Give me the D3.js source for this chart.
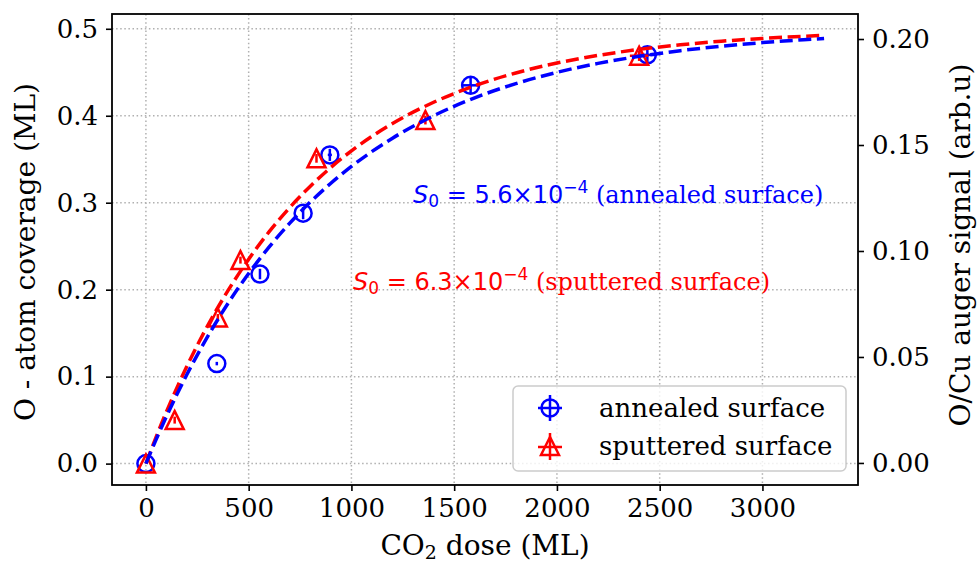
<!DOCTYPE html>
<html>
<head>
<meta charset="utf-8">
<script src="https://cdn.jsdelivr.net/npm/d3@7"></script>
<style>
  html, body { margin: 0; padding: 0; background: #ffffff; }
  svg { display: block; }
</style>
</head>
<body>
<svg id="chart" width="977" height="564"></svg>
<script>
// ---------------- data ----------------
const annealedDose = [0, 345, 555, 765, 895, 1580, 2440];
const annealedCov  = [0.000, 0.115, 0.218, 0.288, 0.355, 0.435, 0.470];
const annealedYErr = [0.000, 0.002, 0.006, 0.007, 0.007, 0.010, 0.010];
const annealedXErr = [0, 0, 0, 0, 10, 45, 45];

const sputteredDose = [0, 140, 350, 460, 830, 1360, 2400];
const sputteredCov  = [0.000, 0.050, 0.168, 0.234, 0.351, 0.395, 0.469];
const sputteredYErr = [0.000, 0.004, 0.004, 0.004, 0.005, 0.005, 0.006];
const sputteredXErr = [0, 0, 0, 0, 0, 0, 45];

// fitted curves, points
const fitDose = [0, 50, 100, 150, 200, 300, 400, 500, 600, 700, 800, 900, 1000,
                 1200, 1400, 1600, 1800, 2000, 2200, 2400, 2600, 2800, 3000, 3200, 3300];
const fitAnnealed = [0.0000, 0.0279, 0.0543, 0.0792, 0.1027, 0.1459, 0.1844, 0.2187, 0.2492,
                     0.2765, 0.3008, 0.3224, 0.3417, 0.3742, 0.4000, 0.4206, 0.4369, 0.4499,
                     0.4602, 0.4683, 0.4748, 0.4800, 0.4841, 0.4874, 0.4888];
const fitSputtered = [0.0000, 0.0308, 0.0597, 0.0867, 0.1122, 0.1584, 0.1992, 0.2350, 0.2667,
                      0.2945, 0.3190, 0.3406, 0.3596, 0.3911, 0.4155, 0.4345, 0.4492, 0.4606,
                      0.4694, 0.4763, 0.4816, 0.4857, 0.4889, 0.4914, 0.4924];

const xTicks = [0, 500, 1000, 1500, 2000, 2500, 3000];
const yLeftTicks = [0.0, 0.1, 0.2, 0.3, 0.4, 0.5];
const yRightTicks = [0.00, 0.05, 0.10, 0.15, 0.20];

const seriesNames = ["annealed surface", "sputtered surface"];
const annotations = [
  { value: "5.6", label: "(annealed surface)" },
  { value: "6.3", label: "(sputtered surface)" }
];

// ---------------- layout ----------------
const W = 977, H = 564;
const L = 112, R = 858, T = 14, B = 485;
const BLUE = "#0000ff", RED = "#ff0000";
const SERIF = "'DejaVu Serif', serif";
const SANS = "'DejaVu Sans', sans-serif";

const svg = d3.select("#chart");

const x = d3.scaleLinear().domain([-165, 3465]).range([L, R]);
const yL = d3.scaleLinear().domain([-0.0246, 0.5170]).range([B, T]);
const yR = d3.scaleLinear().domain([-0.0104, 0.2118]).range([B, T]);

// grid
const grid = svg.append("g");
grid.selectAll("line.gx").data(xTicks).join("line")
  .attr("x1", d => x(d)).attr("x2", d => x(d)).attr("y1", T).attr("y2", B)
  .attr("stroke", "#b0b0b0").attr("stroke-width", 1.5).attr("stroke-dasharray", "1.5,2.6");
grid.selectAll("line.gy").data(yLeftTicks).join("line")
  .attr("x1", L).attr("x2", R).attr("y1", d => yL(d)).attr("y2", d => yL(d))
  .attr("stroke", "#b0b0b0").attr("stroke-width", 1.5).attr("stroke-dasharray", "1.5,2.6");

// axes
function styleAxis(g) {
  g.select(".domain").remove();
  g.selectAll(".tick line").attr("stroke", "#000").attr("stroke-width", 1.6);
  g.selectAll(".tick text").attr("font-family", SERIF).attr("font-size", 26).attr("fill", "#000");
}
svg.append("g").attr("transform", `translate(0,${B})`)
  .call(d3.axisBottom(x).tickValues(xTicks).tickFormat(d3.format("d")).tickSize(6).tickPadding(8).tickSizeOuter(0))
  .call(styleAxis);
svg.append("g").attr("transform", `translate(${L},0)`)
  .call(d3.axisLeft(yL).tickValues(yLeftTicks).tickFormat(d3.format(".1f")).tickSize(6).tickPadding(8).tickSizeOuter(0))
  .call(styleAxis);
svg.append("g").attr("transform", `translate(${R},0)`)
  .call(d3.axisRight(yR).tickValues(yRightTicks).tickFormat(d3.format(".2f")).tickSize(6).tickPadding(8).tickSizeOuter(0))
  .call(styleAxis);

// axis labels
const xl = svg.append("text").attr("x", 485).attr("y", 555).attr("text-anchor", "middle")
  .attr("font-family", SERIF).attr("font-size", 28).attr("fill", "#000");
xl.append("tspan").text("CO");
xl.append("tspan").attr("font-size", 19).attr("dy", 4).text("2");
xl.append("tspan").attr("dy", -4).text(" dose (ML)");

svg.append("text").attr("transform", "translate(35,252) rotate(-90)").attr("text-anchor", "middle")
  .attr("font-family", SERIF).attr("font-size", 28).attr("fill", "#000")
  .text("O - atom coverage (ML)");
svg.append("text").attr("transform", "translate(970,245) rotate(-90)").attr("text-anchor", "middle")
  .attr("font-family", SERIF).attr("font-size", 28).attr("fill", "#000")
  .text("O/Cu auger signal (arb.u)");

// markers
function circleMarker(g, cx, cy, color) {
  g.append("circle").attr("cx", cx).attr("cy", cy).attr("r", 8.5)
    .attr("fill", "none").attr("stroke", color).attr("stroke-width", 2.5);
}
function triMarker(g, cx, cy, color) {
  const s = 9;
  g.append("path").attr("d", `M${cx},${cy - s}L${cx - s},${cy + s}L${cx + s},${cy + s}Z`)
    .attr("fill", "none").attr("stroke", color).attr("stroke-width", 2.5).attr("stroke-linejoin", "miter");
}
function errorBars(g, dx, dy, xe, ye, color) {
  g.append("line").attr("x1", x(dx)).attr("x2", x(dx)).attr("y1", yL(dy - ye)).attr("y2", yL(dy + ye))
    .attr("stroke", color).attr("stroke-width", 2.5);
  if (xe > 0) {
    g.append("line").attr("x1", x(dx - xe)).attr("x2", x(dx + xe)).attr("y1", yL(dy)).attr("y2", yL(dy))
      .attr("stroke", color).attr("stroke-width", 2.5);
  }
}

const pts = svg.append("g");
annealedDose.forEach((d, i) => {
  errorBars(pts, d, annealedCov[i], annealedXErr[i], annealedYErr[i], BLUE);
  circleMarker(pts, x(d), yL(annealedCov[i]), BLUE);
});
sputteredDose.forEach((d, i) => {
  errorBars(pts, d, sputteredCov[i], sputteredXErr[i], sputteredYErr[i], RED);
  triMarker(pts, x(d), yL(sputteredCov[i]), RED);
});

// fit lines
const line = d3.line().x(d => x(d[0])).y(d => yL(d[1])).curve(d3.curveMonotoneX);
svg.append("path").datum(fitDose.map((d, i) => [d, fitSputtered[i]])).attr("d", line)
  .attr("fill", "none").attr("stroke", RED).attr("stroke-width", 3.5).attr("stroke-dasharray", "13,5.6");
svg.append("path").datum(fitDose.map((d, i) => [d, fitAnnealed[i]])).attr("d", line)
  .attr("fill", "none").attr("stroke", BLUE).attr("stroke-width", 3.5).attr("stroke-dasharray", "13,5.6");

// annotations
function annotation(ax, ay, a, color) {
  const t = svg.append("text").attr("x", ax).attr("y", ay).attr("fill", color).attr("font-size", 24);
  t.append("tspan").attr("font-family", SANS).attr("font-style", "italic").text("S");
  t.append("tspan").attr("font-family", SANS).attr("font-size", 17).attr("y", ay + 4).text("0");
  t.append("tspan").attr("font-family", SANS).attr("y", ay).text(" = " + a.value + "×10");
  t.append("tspan").attr("font-family", SANS).attr("font-size", 17).attr("y", ay - 10).text("−4");
  t.append("tspan").attr("font-family", SERIF).attr("y", ay).text(" " + a.label);
}
annotation(413, 203, annotations[0], BLUE);
annotation(353, 290, annotations[1], RED);

// legend
const lg = svg.append("g");
lg.append("rect").attr("x", 513).attr("y", 386).attr("width", 333).attr("height", 85).attr("rx", 5)
  .attr("fill", "#ffffff").attr("fill-opacity", 0.8).attr("stroke", "#cccccc").attr("stroke-width", 1.5);
// annealed entry
lg.append("line").attr("x1", 550).attr("x2", 550).attr("y1", 395).attr("y2", 421).attr("stroke", BLUE).attr("stroke-width", 2.5);
lg.append("line").attr("x1", 538).attr("x2", 562).attr("y1", 408).attr("y2", 408).attr("stroke", BLUE).attr("stroke-width", 2.5);
circleMarker(lg, 550, 408, BLUE);
lg.append("text").attr("x", 599).attr("y", 417).attr("font-family", SERIF).attr("font-size", 26).attr("fill", "#000").text(seriesNames[0]);
// sputtered entry
lg.append("line").attr("x1", 550).attr("x2", 550).attr("y1", 433).attr("y2", 460).attr("stroke", RED).attr("stroke-width", 2.5);
lg.append("line").attr("x1", 538).attr("x2", 562).attr("y1", 447).attr("y2", 447).attr("stroke", RED).attr("stroke-width", 2.5);
triMarker(lg, 550, 446, RED);
lg.append("text").attr("x", 599).attr("y", 455).attr("font-family", SERIF).attr("font-size", 26).attr("fill", "#000").text(seriesNames[1]);

// frame (spines)
svg.append("rect").attr("x", L).attr("y", T).attr("width", R - L).attr("height", B - T)
  .attr("fill", "none").attr("stroke", "#000").attr("stroke-width", 1.8);
</script>
</body>
</html>
